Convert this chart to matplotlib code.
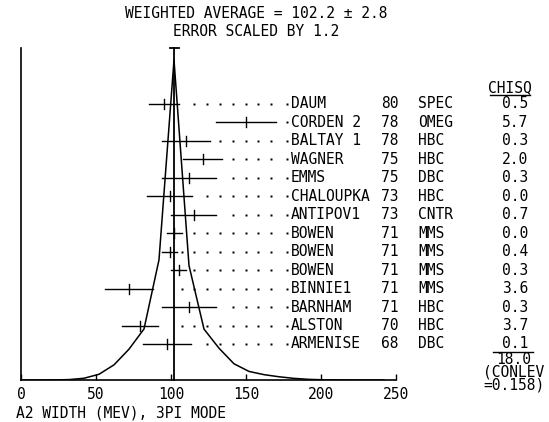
import numpy as np
import matplotlib
matplotlib.use("Agg")
import matplotlib.pyplot as plt

# ---------------- data ----------------
names = ["DAUM", "CORDEN 2", "BALTAY 1", "WAGNER", "EMMS", "CHALOUPKA", "ANTIPOV1",
         "BOWEN", "BOWEN", "BOWEN", "BINNIE1", "BARNHAM", "ALSTON", "ARMENISE"]
years = ["80", "78", "78", "75", "75", "73", "73", "71", "71", "71", "71", "71", "70", "68"]
techs = ["SPEC", "OMEG", "HBC", "HBC", "DBC", "HBC", "CNTR", "MMS", "MMS", "MMS",
         "MMS", "HBC", "HBC", "DBC"]
values = [95, 150, 110, 121, 112, 99, 115, 102, 99, 105, 72, 112, 79, 97]
errors = [10, 20, 16, 13, 18, 15, 15, 5, 5, 5, 16, 18, 12, 16]
chisq = ["0.5", "5.7", "0.3", "2.0", "0.3", "0.0", "0.7", "0.0", "0.4", "0.3",
         "3.6", "0.3", "3.7", "0.1"]
chisq_total = "18.0"
conlev = "0.158"
wavg = 102.2
wavg_err = 2.8
scale_factor = 1.2
xticks = [0, 50, 100, 150, 200, 250]

# ---------------- figure ----------------
W, H = 549, 422
fig = plt.figure(figsize=(W / 100, H / 100), dpi=100)
FONT = "DejaVu Sans Mono"
FS = 10.5

# axes: x 0..250 -> px 21..396 ; y in pixel units above baseline (py 380) up to py 48
ax_l, ax_r, ax_b, ax_t = 21, 396, 380, 48
ax = fig.add_axes([ax_l / W, 1 - ax_b / H, (ax_r - ax_l) / W, (ax_b - ax_t) / H])
ax.set_xlim(0, 250)
ax.set_ylim(0, ax_b - ax_t)
ax.patch.set_alpha(0)
for s in ["top", "right"]:
    ax.spines[s].set_visible(False)
ax.spines["left"].set_linewidth(1.2)
ax.spines["bottom"].set_linewidth(1.2)
ax.set_yticks([])
ax.set_xticks(xticks)
ax.set_xticklabels([str(t) for t in xticks], fontfamily=FONT, fontsize=FS)
ax.tick_params(axis="x", direction="in", length=4, width=1, pad=5)

# ideogram: sum of gaussians (area ~ 1/err), sampled on a coarse 10-unit grid
xs = np.arange(2.0, 252.0, 10.0)
v = np.array(values, float)
e = np.array(errors, float)
ideo = np.sum((1 / e[:, None]) * np.exp(-0.5 * ((xs[None, :] - v[:, None]) / e[:, None]) ** 2)
              / e[:, None], axis=0)
ideo = ideo / ideo.max() * 320
ax.plot(xs, ideo, color="black", lw=1.1)

# weighted average line with cap
top = ax_b - ax_t
ax.plot([wavg, wavg], [0, top], color="black", lw=1.3, clip_on=False)
ax.plot([wavg - wavg_err, wavg + wavg_err], [top, top], color="black", lw=1.3, clip_on=False)

# rows
y0 = ax_b - 104
dy = 18.46
dot_start, dot_step = 107.1, 8.53
name_dot_x = 177.5
for i, (val, err) in enumerate(zip(values, errors)):
    y = y0 - i * dy
    lo, hi = val - err, val + err
    ax.plot([lo, hi], [y, y], color="black", lw=1.0, clip_on=False)
    ax.plot([val, val], [y - 5, y + 5], color="black", lw=1.0, clip_on=False)
    dx = [dot_start + k * dot_step for k in range(8)]
    dx = [d for d in dx if d > hi + 3]
    if dx:
        ax.plot(dx, [y] * len(dx), ls="none", marker="s", ms=1.7, color="black",
                mec="none", clip_on=False)
    ax.plot([name_dot_x], [y], ls="none", marker="s", ms=1.7, color="black",
            mec="none", clip_on=False)
    ax.text(180, y, names[i], fontfamily=FONT, fontsize=FS, va="center", ha="left",
            clip_on=False)
    ax.text(240, y, years[i], fontfamily=FONT, fontsize=FS, va="center", ha="left",
            clip_on=False)
    ax.text(264.7, y, techs[i], fontfamily=FONT, fontsize=FS, va="center", ha="left",
            clip_on=False)
    ax.text(338, y, chisq[i], fontfamily=FONT, fontsize=FS, va="center", ha="right",
            clip_on=False)

def px(x, y):
    return x / W, 1 - y / H

fig.text(*px(256, 13), f"WEIGHTED AVERAGE = {wavg} \u00b1 {wavg_err}", fontfamily=FONT,
         fontsize=FS, ha="center", va="center")
fig.text(*px(256, 32), f"ERROR SCALED BY {scale_factor}", fontfamily=FONT,
         fontsize=FS, ha="center", va="center")
fig.text(*px(510, 88), "CHISQ", fontfamily=FONT, fontsize=FS, ha="center", va="center")
fig.add_artist(plt.Line2D([490 / W, 530 / W], [1 - 95 / H, 1 - 95 / H], color="black", lw=1))
fig.add_artist(plt.Line2D([493 / W, 533 / W], [1 - 352 / H, 1 - 352 / H], color="black", lw=1))
fig.text(*px(514, 372), f"{chisq_total}\n(CONLEV\n={conlev})", fontfamily=FONT, fontsize=FS,
         ha="center", va="center", multialignment="center", linespacing=0.8)
fig.text(*px(16, 413), "A2 WIDTH (MEV), 3PI MODE", fontfamily=FONT, fontsize=FS,
         ha="left", va="center")

fig.savefig("out.png", dpi=100, facecolor="white")
